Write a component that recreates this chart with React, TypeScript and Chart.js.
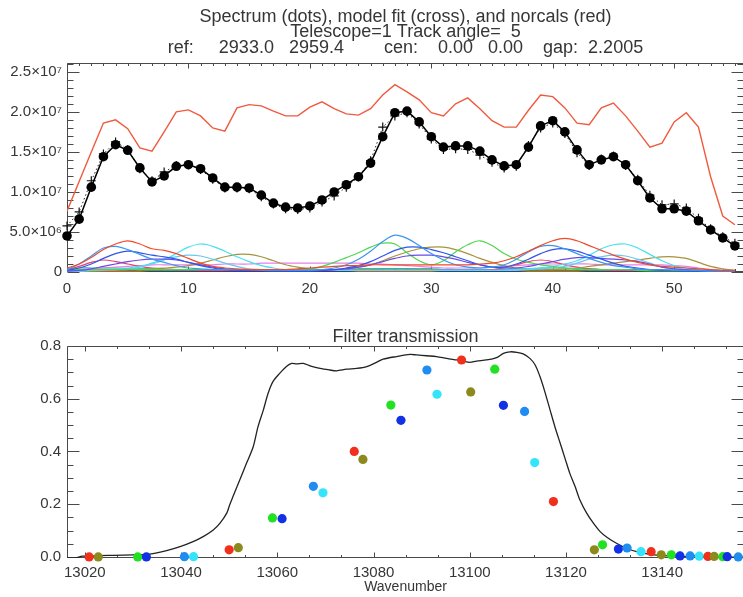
import React, { useEffect, useRef } from 'react';
import { Chart, registerables } from 'chart.js';

Chart.register(...registerables);

const FONT = '"Liberation Sans", Arial, Helvetica, sans-serif';
const INK = '#363636';
const AXIS = '#4a4a4a';

// ---------------- top panel: spectrum ----------------
const titleLines = [
  'Spectrum (dots), model fit (cross), and norcals (red)',
  'Telescope=1 Track angle=  5',
  'ref:     2933.0   2959.4        cen:    0.00   0.00    gap:  2.2005',
];

const pixelIndex = [0, 1, 2, 3, 4, 5, 6, 7, 8, 9, 10, 11, 12, 13, 14, 15, 16, 17, 18, 19, 20, 21, 22, 23, 24, 25, 26, 27, 28, 29, 30, 31, 32, 33, 34, 35, 36, 37, 38, 39, 40, 41, 42, 43, 44, 45, 46, 47, 48, 49, 50, 51, 52, 53, 54, 55];

// values in units of 1e6
const spectrumM = [4.5, 6.6, 10.6, 14.4, 15.9, 15.2, 13.0, 11.25, 12.0, 13.2, 13.4, 12.9, 11.75, 10.6, 10.6, 10.5, 9.6, 8.6, 8.1, 8.0, 8.25, 9.0, 10.0, 10.9, 11.9, 13.6, 16.9, 19.9, 20.1, 18.75, 16.9, 15.6, 15.75, 15.75, 15.1, 14.0, 13.25, 13.4, 15.6, 18.25, 18.9, 17.5, 15.25, 13.4, 14.0, 14.4, 13.4, 11.4, 9.25, 7.9, 7.9, 7.6, 6.4, 5.25, 4.25, 3.25];
const modelM = [5.75, 7.5, 11.4, 14.75, 16.25, 15.3, 12.9, 11.4, 12.5, 13.3, 13.4, 12.8, 11.6, 10.5, 10.5, 10.4, 9.4, 8.5, 7.9, 7.8, 8.0, 8.75, 9.5, 10.6, 11.9, 13.9, 18.1, 19.5, 19.9, 18.5, 16.6, 15.3, 15.4, 15.3, 14.6, 13.7, 13.0, 13.2, 15.8, 18.0, 18.6, 17.3, 14.9, 13.3, 14.1, 14.5, 13.3, 11.6, 9.6, 8.4, 8.5, 8.0, 6.7, 5.4, 4.4, 3.6];
const norcalsM = [7.6, 11.3, 15.0, 18.6, 19.0, 17.9, 15.5, 15.1, 17.5, 20.0, 20.25, 19.5, 18.0, 17.6, 20.5, 20.9, 20.75, 20.1, 19.5, 19.5, 20.6, 21.25, 20.4, 19.75, 19.6, 20.4, 22.1, 23.4, 22.5, 21.5, 19.9, 19.5, 21.0, 21.75, 20.4, 18.9, 18.1, 18.1, 20.2, 22.1, 21.9, 20.5, 18.6, 18.4, 20.5, 21.1, 19.5, 17.6, 15.6, 16.1, 18.75, 19.9, 18.1, 11.9, 7.0, 5.9];

const compRed = [0.5, 1.0, 1.8, 2.8, 3.5, 3.9, 3.5, 2.9, 2.7, 2.3, 1.7, 1.1, 0.7, 0.5, 0.4, 0.3, 0.3, 0.3, 0.3, 0.4, 0.5, 0.6, 0.7, 0.8, 0.8, 0.9, 0.9, 0.9, 0.9, 0.9, 0.9, 0.9, 0.9, 0.9, 1.0, 1.1, 1.4, 1.9, 2.6, 3.3, 3.9, 4.2, 3.9, 3.3, 2.7, 2.1, 1.6, 1.2, 0.9, 0.7, 0.6, 0.5, 0.4, 0.3, 0.2, 0.2];
const compDodger = [0.3, 1.0, 2.0, 3.0, 3.2, 2.8, 2.2, 1.6, 1.2, 0.8, 0.5, 0.4, 0.3, 0.3, 0.3, 0.3, 0.2, 0.2, 0.2, 0.2, 0.2, 0.3, 0.5, 0.9, 1.6, 2.6, 3.8, 4.6, 4.2, 3.3, 2.3, 1.5, 0.9, 0.6, 0.5, 0.6, 0.9, 1.6, 2.5, 3.2, 3.3, 2.9, 2.3, 1.7, 1.2, 0.8, 0.6, 0.4, 0.3, 0.3, 0.2, 0.2, 0.2, 0.1, 0.1, 0.1];
const compBlue = [0.2, 0.5, 1.0, 1.7, 2.3, 2.6, 2.4, 2.1, 1.9, 1.6, 1.2, 0.8, 0.5, 0.3, 0.2, 0.2, 0.2, 0.1, 0.1, 0.1, 0.1, 0.2, 0.3, 0.5, 0.8, 1.3, 2.0, 2.7, 3.1, 3.1, 2.8, 2.4, 1.9, 1.4, 0.9, 0.6, 0.6, 1.0, 1.6, 2.3, 2.8, 2.9, 2.6, 2.1, 1.6, 1.1, 0.7, 0.5, 0.3, 0.2, 0.2, 0.1, 0.1, 0.1, 0.1, 0.1];
const compPurple = [0.1, 0.2, 0.4, 0.7, 1.0, 1.3, 1.5, 1.6, 1.6, 1.5, 1.2, 0.9, 0.6, 0.4, 0.3, 0.2, 0.2, 0.2, 0.2, 0.2, 0.2, 0.2, 0.3, 0.4, 0.6, 0.9, 1.3, 1.7, 2.0, 2.1, 2.1, 1.9, 1.6, 1.2, 0.9, 0.6, 0.5, 0.5, 0.7, 1.0, 1.3, 1.6, 1.8, 1.8, 1.7, 1.6, 1.5, 1.3, 1.0, 0.6, 0.4, 0.3, 0.2, 0.1, 0.1, 0.1];
const compCyan = [0.1, 0.1, 0.2, 0.3, 0.4, 0.5, 0.7, 1.0, 1.5, 2.3, 3.1, 3.5, 3.2, 2.6, 1.9, 1.3, 0.8, 0.5, 0.3, 0.2, 0.2, 0.2, 0.2, 0.2, 0.2, 0.2, 0.2, 0.2, 0.2, 0.2, 0.2, 0.2, 0.2, 0.2, 0.2, 0.2, 0.2, 0.3, 0.4, 0.5, 0.7, 1.0, 1.4, 2.1, 2.9, 3.4, 3.5, 3.0, 2.2, 1.4, 0.8, 0.5, 0.3, 0.2, 0.1, 0.1];
const compSky = [0.1, 0.1, 0.2, 0.2, 0.3, 0.3, 0.6, 1.1, 1.6, 1.9, 2.1, 2.0, 1.6, 1.1, 0.7, 0.4, 0.3, 0.2, 0.2, 0.2, 0.2, 0.2, 0.2, 0.2, 0.2, 0.2, 0.2, 0.2, 0.2, 0.2, 0.2, 0.2, 0.2, 0.2, 0.2, 0.2, 0.2, 0.2, 0.3, 0.4, 0.5, 0.7, 1.1, 1.6, 1.9, 2.1, 2.0, 1.6, 1.1, 0.6, 0.4, 0.3, 0.2, 0.1, 0.1, 0.1];
const compOlive = [0.1, 0.1, 0.1, 0.2, 0.2, 0.3, 0.3, 0.4, 0.5, 0.6, 0.8, 1.1, 1.5, 1.9, 2.2, 2.2, 1.9, 1.4, 0.9, 0.6, 0.4, 0.3, 0.3, 0.4, 0.6, 0.9, 1.4, 2.0, 2.5, 2.9, 3.1, 3.1, 2.8, 2.3, 1.7, 1.2, 0.8, 0.5, 0.4, 0.3, 0.3, 0.4, 0.5, 0.7, 0.9, 1.1, 1.3, 1.5, 1.7, 1.9, 1.9, 1.7, 1.2, 0.7, 0.4, 0.2];
const compGreen = [0.3, 0.3, 0.3, 0.3, 0.3, 0.3, 0.3, 0.3, 0.3, 0.3, 0.3, 0.3, 0.3, 0.3, 0.3, 0.3, 0.3, 0.3, 0.3, 0.3, 0.4, 0.7, 1.2, 1.8, 2.4, 3.1, 3.6, 3.5, 2.4, 1.4, 0.9, 1.4, 2.5, 3.4, 3.9, 3.3, 2.3, 1.6, 1.2, 0.9, 0.7, 0.5, 0.4, 0.3, 0.3, 0.3, 0.3, 0.2, 0.2, 0.2, 0.2, 0.2, 0.2, 0.2, 0.1, 0.1];
const compCrimson = [0.3, 0.7, 1.2, 1.5, 1.3, 1.0, 0.7, 0.5, 0.4, 0.3, 0.3, 0.2, 0.2, 0.2, 0.2, 0.2, 0.2, 0.2, 0.2, 0.2, 0.2, 0.2, 0.2, 0.2, 0.2, 0.2, 0.2, 0.2, 0.2, 0.2, 0.2, 0.2, 0.2, 0.2, 0.2, 0.3, 0.5, 0.9, 1.3, 1.5, 1.3, 0.9, 0.6, 0.4, 0.3, 0.2, 0.2, 0.2, 0.2, 0.2, 0.2, 0.2, 0.2, 0.1, 0.1, 0.1];
const compViolet = [0.2, 0.3, 0.4, 0.5, 0.6, 0.7, 0.8, 0.9, 0.9, 0.9, 0.9, 0.9, 0.9, 1.0, 1.0, 1.0, 1.1, 1.1, 1.1, 1.1, 1.1, 1.1, 1.1, 1.1, 1.1, 1.0, 1.0, 0.9, 0.8, 0.7, 0.6, 0.5, 0.5, 0.5, 0.5, 0.6, 0.7, 0.8, 0.9, 1.0, 1.0, 1.0, 1.0, 1.0, 0.9, 0.9, 0.9, 0.9, 0.9, 0.9, 0.8, 0.7, 0.5, 0.3, 0.2, 0.1];
const compTeal = [0.4, 0.5, 0.5, 0.5, 0.5, 0.4, 0.4, 0.4, 0.3, 0.3, 0.3, 0.3, 0.2, 0.2, 0.2, 0.2, 0.2, 0.2, 0.2, 0.2, 0.2, 0.2, 0.2, 0.3, 0.3, 0.3, 0.4, 0.4, 0.4, 0.3, 0.3, 0.3, 0.3, 0.3, 0.3, 0.3, 0.3, 0.4, 0.4, 0.5, 0.5, 0.5, 0.4, 0.4, 0.3, 0.3, 0.3, 0.3, 0.2, 0.2, 0.2, 0.2, 0.2, 0.1, 0.1, 0.1];
const compDarkGreen = [0.2, 0.3, 0.3, 0.3, 0.3, 0.3, 0.2, 0.2, 0.2, 0.2, 0.2, 0.2, 0.2, 0.2, 0.2, 0.2, 0.2, 0.2, 0.2, 0.2, 0.2, 0.2, 0.3, 0.3, 0.4, 0.4, 0.4, 0.4, 0.4, 0.4, 0.4, 0.3, 0.3, 0.3, 0.3, 0.3, 0.2, 0.2, 0.2, 0.2, 0.2, 0.2, 0.2, 0.2, 0.2, 0.2, 0.2, 0.2, 0.1, 0.1, 0.1, 0.1, 0.1, 0.1, 0.1, 0.1];
const compNavy = [0.1, 0.1, 0.2, 0.2, 0.2, 0.2, 0.2, 0.1, 0.1, 0.1, 0.1, 0.1, 0.1, 0.1, 0.1, 0.1, 0.1, 0.1, 0.1, 0.1, 0.1, 0.1, 0.1, 0.1, 0.2, 0.2, 0.2, 0.2, 0.2, 0.2, 0.2, 0.1, 0.1, 0.1, 0.1, 0.1, 0.1, 0.1, 0.2, 0.2, 0.2, 0.2, 0.2, 0.1, 0.1, 0.1, 0.1, 0.1, 0.1, 0.1, 0.1, 0.1, 0.1, 0.1, 0.1, 0.1];
const compOrange = [0.05, 0.05, 0.05, 0.05, 0.05, 0.05, 0.05, 0.05, 0.05, 0.05, 0.05, 0.05, 0.05, 0.05, 0.05, 0.05, 0.05, 0.05, 0.05, 0.05, 0.05, 0.05, 0.05, 0.05, 0.05, 0.05, 0.05, 0.05, 0.05, 0.05, 0.05, 0.05, 0.05, 0.05, 0.05, 0.05, 0.05, 0.05, 0.05, 0.05, 0.05, 0.05, 0.05, 0.05, 0.05, 0.05, 0.05, 0.05, 0.05, 0.05, 0.05, 0.05, 0.05, 0.05, 0.05, 0.05];

const components: [number[], string][] = [
  [compOrange, '#e0501c'],
  [compNavy, '#1c2a96'],
  [compDarkGreen, '#2f9a45'],
  [compTeal, '#22b0b4'],
  [compViolet, '#e57fe8'],
  [compCrimson, '#ea3f6c'],
  [compOlive, '#a8923a'],
  [compSky, '#66c8f2'],
  [compCyan, '#48e0f2'],
  [compGreen, '#4fd64f'],
  [compPurple, '#6a4ae6'],
  [compBlue, '#2f55ea'],
  [compDodger, '#3c96f0'],
  [compRed, '#f04a2c'],
];

const topXTicks = [0, 10, 20, 30, 40, 50];
const topXTickLabels = ['0', '10', '20', '30', '40', '50'];
const topYTicks = [0, 5e6, 1e7, 1.5e7, 2e7, 2.5e7];
const topYTickLabels = ['0', '5.0×10⁶', '1.0×10⁷', '1.5×10⁷', '2.0×10⁷', '2.5×10⁷'];

// ---------------- bottom panel: filter transmission ----------------
const filterWn = [13016.3, 13018, 13019.5, 13021, 13023, 13026, 13030, 13033.5, 13037, 13039.8, 13042.5, 13044.6, 13046.7, 13048.1, 13049.5, 13050.1, 13050.8, 13052.2, 13053.6, 13055.0, 13056.0, 13057.1, 13058.1, 13059.1, 13060.5, 13061.9, 13063.0, 13064.0, 13065.4, 13066.8, 13068.9, 13070.9, 13072.3, 13074.4, 13076.5, 13078.6, 13080.6, 13082.0, 13084.8, 13087.6, 13089.0, 13091.0, 13093.1, 13095.2, 13097.3, 13098.6, 13100.0, 13101.4, 13103.5, 13105.6, 13107.0, 13108.4, 13109.8, 13111.1, 13112.5, 13113.6, 13114.6, 13115.6, 13116.7, 13117.7, 13118.8, 13119.8, 13120.8, 13121.9, 13122.9, 13124.3, 13125.7, 13127.1, 13128.5, 13130.5, 13132.6, 13134.7, 13137.5, 13140.2, 13145.1, 13150, 13157];
const filterT = [-0.004, -0.004, 0.003, 0.002, 0.005, 0.006, 0.008, 0.011, 0.024, 0.039, 0.058, 0.077, 0.102, 0.128, 0.166, 0.197, 0.229, 0.292, 0.355, 0.418, 0.494, 0.557, 0.621, 0.665, 0.696, 0.722, 0.734, 0.732, 0.734, 0.725, 0.715, 0.709, 0.706, 0.712, 0.715, 0.722, 0.738, 0.750, 0.760, 0.768, 0.766, 0.763, 0.760, 0.753, 0.747, 0.743, 0.738, 0.743, 0.747, 0.756, 0.772, 0.778, 0.776, 0.770, 0.753, 0.728, 0.684, 0.627, 0.557, 0.494, 0.431, 0.374, 0.317, 0.267, 0.216, 0.166, 0.128, 0.096, 0.075, 0.052, 0.033, 0.020, 0.010, 0.005, 0.001, 0.000, -0.001];

const norcalWn = [13020.9, 13022.8, 13031.0, 13032.8, 13040.7, 13042.6, 13050.0, 13051.9, 13059.0, 13061.0, 13067.5, 13069.5, 13076.0, 13077.8, 13083.6, 13085.7, 13091.1, 13093.2, 13098.3, 13100.2, 13105.2, 13107.0, 13111.4, 13113.5, 13117.4, 13125.9, 13127.6, 13130.9, 13132.7, 13135.6, 13137.7, 13139.8, 13141.9, 13143.7, 13145.8, 13147.7, 13149.5, 13150.8, 13152.6, 13153.5, 13155.8];
const norcalT = [0, 0, 0, 0, 0.001, 0.001, 0.027, 0.035, 0.148, 0.145, 0.268, 0.243, 0.40, 0.37, 0.576, 0.518, 0.709, 0.617, 0.747, 0.626, 0.712, 0.575, 0.552, 0.358, 0.21, 0.027, 0.046, 0.03, 0.034, 0.02, 0.02, 0.008, 0.008, 0.004, 0.004, 0.003, 0.002, 0.002, 0.001, 0.001, 0.0];
const dotPalette = ['#f0301c', '#8c8a1c', '#22e022', '#1230e6', '#1e8cf0', '#34e4fa'];
const norcalColorIdx = [0, 1, 2, 3, 4, 5, 0, 1, 2, 3, 4, 5, 0, 1, 2, 3, 4, 5, 0, 1, 2, 3, 4, 5, 0, 1, 2, 3, 4, 5, 0, 1, 2, 3, 4, 5, 0, 1, 2, 3, 4];

const botXTicks = [13020, 13040, 13060, 13080, 13100, 13120, 13140];
const botXTickLabels = ['13020', '13040', '13060', '13080', '13100', '13120', '13140'];
const botYTicks = [0, 0.2, 0.4, 0.6, 0.8];
const botYTickLabels = ['0.0', '0.2', '0.4', '0.6', '0.8'];

// ---------------- IDL-like frame with inward ticks ----------------
type FrameCfg = { xMajor: number; xMinor: number; yMajor: number; yMinor: number; xLen: number; yLen: number };
function framePlugin(cfg: FrameCfg) {
  return {
    id: 'idlFrame',
    beforeDatasetsDraw(chart: any) {
      const { ctx, chartArea: a } = chart;
      const xs = chart.scales.x;
      const ys = chart.scales.y;
      const L = Math.round(a.left) + 0.5;
      const R = Math.round(a.right) - 0.5;
      const T = Math.round(a.top) + 0.5;
      const B = Math.round(a.bottom) - 0.5;
      ctx.save();
      ctx.strokeStyle = AXIS;
      ctx.lineWidth = 1;
      ctx.beginPath();
      ctx.rect(L, T, R - L, B - T);
      const marks = (min: number, max: number, minor: number, major: number, draw: (v: number, maj: boolean) => void) => {
        const n0 = Math.ceil(min / minor - 1e-6);
        const n1 = Math.floor(max / minor + 1e-6);
        for (let n = n0; n <= n1; n++) {
          const v = n * minor;
          const r = v / major;
          draw(v, Math.abs(r - Math.round(r)) < 1e-6);
        }
      };
      marks(xs.min, xs.max, cfg.xMinor, cfg.xMajor, (v, maj) => {
        const p = Math.round(xs.getPixelForValue(v)) + 0.5;
        const len = maj ? cfg.xLen : cfg.xLen / 2;
        ctx.moveTo(p, B); ctx.lineTo(p, B - len);
        ctx.moveTo(p, T); ctx.lineTo(p, T + len);
      });
      marks(ys.min, ys.max, cfg.yMinor, cfg.yMajor, (v, maj) => {
        const p = Math.round(ys.getPixelForValue(v)) + 0.5;
        const len = maj ? cfg.yLen : cfg.yLen / 2;
        ctx.moveTo(L, p); ctx.lineTo(L + len, p);
        ctx.moveTo(R, p); ctx.lineTo(R - len, p);
      });
      ctx.stroke();
      ctx.restore();
    },
  };
}

const tickFont = { family: FONT, size: 15 };

function TopChart() {
  const ref = useRef<HTMLCanvasElement>(null);
  useEffect(() => {
    const toXY = (arr: number[]) => pixelIndex.map((x, i) => ({ x, y: arr[i] * 1e6 }));
    const datasets: any[] = [
      {
        label: 'Spectrum',
        data: toXY(spectrumM),
        borderColor: '#000',
        borderWidth: 1.5,
        pointRadius: 4.8,
        pointBackgroundColor: '#000',
        pointBorderColor: '#000',
        pointBorderWidth: 0,
        clip: false,
      },
      {
        label: 'Model fit',
        data: toXY(modelM),
        borderColor: '#222',
        borderWidth: 1,
        borderDash: [1.5, 2.5],
        pointStyle: 'cross',
        pointRadius: 4.5,
        pointBorderColor: '#111',
        pointBorderWidth: 1.2,
        clip: false,
      },
      {
        label: 'Norcals',
        data: toXY(norcalsM),
        borderColor: '#f05a3e',
        borderWidth: 1.4,
        pointRadius: 0,
      },
      ...components
        .slice()
        .reverse()
        .map(([arr, col], k) => ({
          label: 'component ' + (k + 1),
          data: toXY(arr),
          borderColor: col,
          borderWidth: 1.2,
          pointRadius: 0,
          tension: 0.35,
        })),
    ];
    const chart = new Chart(ref.current!, {
      type: 'line',
      data: { datasets },
      options: {
        animation: false,
        responsive: false,
        devicePixelRatio: 1,
        layout: { padding: { left: 0, right: 16, top: 0, bottom: 0 } },
        plugins: {
          legend: { display: false },
          tooltip: { enabled: false },
          title: {
            display: true,
            text: titleLines,
            fullSize: false,
            color: INK,
            font: { family: FONT, size: 18, weight: 'normal', lineHeight: 0.86 },
            padding: { top: 9.3, bottom: 7.3 },
          },
        },
        scales: {
          x: {
            type: 'linear',
            min: 0,
            max: 55.75,
            grid: { display: false, drawTicks: false },
            border: { display: false },
            afterBuildTicks: (s: any) => { s.ticks = topXTicks.map((v) => ({ value: v })); },
            afterFit: (s: any) => { s.height = 28; },
            ticks: {
              color: INK,
              font: tickFont,
              padding: 8,
              maxRotation: 0,
              autoSkip: false,
              callback: (_v: any, i: number) => topXTickLabels[i],
            },
          },
          y: {
            type: 'linear',
            min: 0,
            max: 2.61e7,
            grid: { display: false, drawTicks: false },
            border: { display: false },
            afterBuildTicks: (s: any) => { s.ticks = topYTicks.map((v) => ({ value: v })); },
            afterFit: (s: any) => { s.width = 67; },
            ticks: {
              color: INK,
              font: tickFont,
              padding: 5,
              autoSkip: false,
              callback: (_v: any, i: number) => topYTickLabels[i],
            },
          },
        },
      } as any,
      plugins: [framePlugin({ xMajor: 10, xMinor: 1, yMajor: 5e6, yMinor: 1e6, xLen: 5, yLen: 12 })],
    });
    return () => chart.destroy();
  }, []);
  return <canvas ref={ref} width={760} height={300} style={{ position: 'absolute', left: 0, top: 0, display: 'block' }} />;
}

function BottomChart() {
  const ref = useRef<HTMLCanvasElement>(null);
  useEffect(() => {
    const chart = new Chart(ref.current!, {
      type: 'line',
      data: {
        datasets: [
          {
            label: 'Norcal transmission',
            data: norcalWn.map((x, i) => ({ x, y: norcalT[i] })),
            showLine: false,
            pointRadius: 4.6,
            pointBackgroundColor: norcalColorIdx.map((c) => dotPalette[c]),
            pointBorderColor: norcalColorIdx.map((c) => dotPalette[c]),
            pointBorderWidth: 0,
            clip: false,
          },
          {
            label: 'Filter transmission',
            data: filterWn.map((x, i) => ({ x, y: filterT[i] })),
            borderColor: '#222',
            borderWidth: 1.3,
            pointRadius: 0,
            tension: 0.3,
          },
        ],
      },
      options: {
        animation: false,
        responsive: false,
        devicePixelRatio: 1,
        layout: { padding: { left: 0, right: 16, top: 0, bottom: 0 } },
        plugins: {
          legend: { display: false },
          tooltip: { enabled: false },
          title: {
            display: true,
            text: 'Filter transmission',
            fullSize: false,
            color: INK,
            font: { family: FONT, size: 18, weight: 'normal', lineHeight: 1.0 },
            padding: { top: 28, bottom: 0 },
          },
        },
        scales: {
          x: {
            type: 'linear',
            min: 13016.3,
            max: 13157,
            grid: { display: false, drawTicks: false },
            border: { display: false },
            afterBuildTicks: (s: any) => { s.ticks = botXTicks.map((v) => ({ value: v })); },
            afterFit: (s: any) => { s.height = 39; },
            ticks: {
              color: INK,
              font: tickFont,
              padding: 6,
              maxRotation: 0,
              autoSkip: false,
              callback: (_v: any, i: number) => botXTickLabels[i],
            },
            title: {
              display: true,
              text: 'Wavenumber',
              color: INK,
              font: { family: FONT, size: 14, lineHeight: 1.2 },
              padding: { top: 0, bottom: 1.6 },
            },
          },
          y: {
            type: 'linear',
            min: -0.004,
            max: 0.8,
            grid: { display: false, drawTicks: false },
            border: { display: false },
            afterBuildTicks: (s: any) => { s.ticks = botYTicks.map((v) => ({ value: v })); },
            afterFit: (s: any) => { s.width = 67; },
            ticks: {
              color: INK,
              font: tickFont,
              padding: 6,
              autoSkip: false,
              callback: (_v: any, i: number) => botYTickLabels[i],
            },
          },
        },
      } as any,
      plugins: [framePlugin({ xMajor: 20, xMinor: 20 / 3, yMajor: 0.2, yMinor: 0.05, xLen: 5, yLen: 12 })],
    });
    return () => chart.destroy();
  }, []);
  return <canvas ref={ref} width={760} height={297} style={{ position: 'absolute', left: 0, top: 300, display: 'block' }} />;
}

export default function App() {
  return (
    <div style={{ position: 'absolute', left: 0, top: 0, width: 743, height: 597, overflow: 'hidden', background: '#fff' }}>
      <TopChart />
      <BottomChart />
    </div>
  );
}
